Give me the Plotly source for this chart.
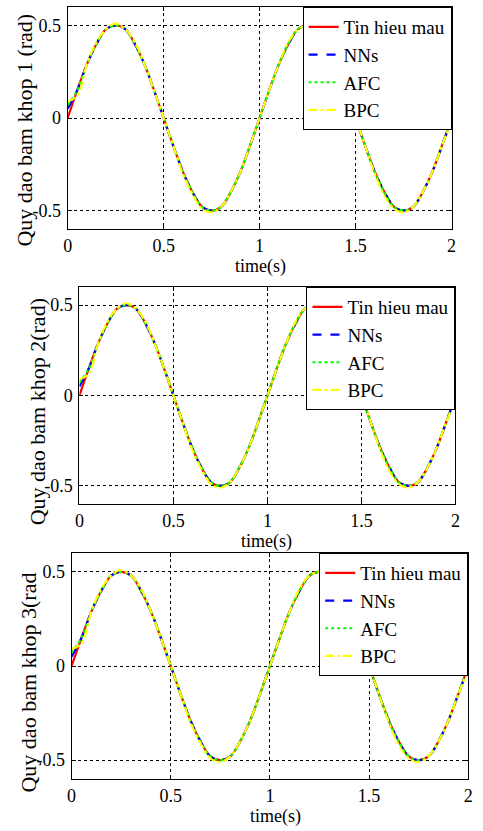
import plotly.graph_objects as go

# ---------------- data ----------------
time_s = [0.00, 0.05, 0.10, 0.15, 0.20, 0.25, 0.30, 0.35, 0.40, 0.45,
          0.50, 0.55, 0.60, 0.65, 0.70, 0.75, 0.80, 0.85, 0.90, 0.95,
          1.00, 1.05, 1.10, 1.15, 1.20, 1.25, 1.30, 1.35, 1.40, 1.45,
          1.50, 1.55, 1.60, 1.65, 1.70, 1.75, 1.80, 1.85, 1.90, 1.95, 2.00]

ref_signal = [0.00, 0.15, 0.29, 0.40, 0.48, 0.50, 0.48, 0.40, 0.29, 0.15,
              0.00, -0.15, -0.29, -0.40, -0.48, -0.50, -0.48, -0.40, -0.29, -0.15,
              0.00, 0.15, 0.29, 0.40, 0.48, 0.50, 0.48, 0.40, 0.29, 0.15,
              0.00, -0.15, -0.29, -0.40, -0.48, -0.50, -0.48, -0.40, -0.29, -0.15, 0.00]

nns_signal = [0.05, 0.15, 0.29, 0.40, 0.48, 0.50, 0.48, 0.40, 0.29, 0.15,
              0.00, -0.15, -0.29, -0.40, -0.48, -0.50, -0.48, -0.40, -0.29, -0.15,
              0.00, 0.15, 0.29, 0.40, 0.48, 0.50, 0.48, 0.40, 0.29, 0.15,
              0.00, -0.15, -0.29, -0.40, -0.48, -0.50, -0.48, -0.40, -0.29, -0.15, -0.01]

afc_signal = [0.07, 0.15, 0.29, 0.40, 0.48, 0.50, 0.48, 0.40, 0.29, 0.15,
              0.00, -0.15, -0.29, -0.40, -0.48, -0.50, -0.48, -0.40, -0.29, -0.15,
              0.00, 0.15, 0.29, 0.40, 0.48, 0.50, 0.48, 0.40, 0.29, 0.15,
              0.00, -0.15, -0.29, -0.40, -0.48, -0.50, -0.48, -0.40, -0.29, -0.15, -0.01]

bpc_signal = [0.09, 0.12, 0.29, 0.41, 0.48, 0.51, 0.48, 0.41, 0.29, 0.15,
              0.00, -0.15, -0.30, -0.41, -0.49, -0.51, -0.48, -0.40, -0.29, -0.15,
              0.00, 0.15, 0.29, 0.41, 0.48, 0.50, 0.48, 0.40, 0.29, 0.15,
              0.00, -0.15, -0.30, -0.42, -0.49, -0.51, -0.48, -0.40, -0.29, -0.15, -0.02]

series_names = ["Tin hieu mau", "NNs", "AFC", "BPC"]
series_values = [ref_signal, nns_signal, afc_signal, bpc_signal]

y_labels = ["Quy dao bam khop 1 (rad)", "Quy dao bam khop 2(rad)", "Quy dao bam khop 3(rad"]
x_label = "time(s)"
x_tickvals = [0, 0.5, 1, 1.5, 2]
x_ticktext = ["0", "0.5", "1", "1.5", "2"]
y_tickvals = [-0.5, 0, 0.5]
y_ticktext = ["-0.5", "0", "0.5"]

# ---------------- styles / layout ----------------
W, H = 483, 831
FONT = "Liberation Serif, Times New Roman, serif"
colors = ["#ff0000", "#0000ff", "#00ff00", "#ffff00"]
dashes = ["solid", "dash", "dot", "dashdot"]

# pixel boxes of the three axes: (left, right, top, bottom)
boxes = [(64, 456, 7, 229), (76, 460, 287, 504), (68, 473, 553, 779)]
ylabel_pos = [(20, 130), (33, 412), (23, 683)]
xlabel_pos = [(261, 266), (267, 541), (276, 816)]

def px(x):
    return x / W

def py(y):
    return 1 - y / H

fig = go.Figure()
layout = dict(
    width=W, height=H,
    margin=dict(l=0, r=0, t=0, b=0),
    paper_bgcolor="white", plot_bgcolor="white",
    font=dict(family=FONT, size=18, color="black"),
    annotations=[],
)

for k, (l, r, t, b) in enumerate(boxes):
    sfx = "" if k == 0 else str(k + 1)
    leg = "legend" if k == 0 else f"legend{k + 1}"
    for name, vals, c, d in zip(series_names, series_values, colors, dashes):
        fig.add_trace(go.Scatter(
            x=time_s, y=vals, mode="lines", name=name,
            line=dict(color=c, dash=d, width=2.2, shape="spline"),
            xaxis="x" + sfx, yaxis="y" + sfx, legend=leg,
        ))
    axis_common = dict(
        showline=True, linecolor="black", linewidth=1, mirror="ticks",
        ticks="inside", ticklen=4, tickcolor="black",
        showgrid=True, gridcolor="black", gridwidth=1, griddash="dot",
        zeroline=False, tickfont=dict(family=FONT, size=18, color="black"),
    )
    layout["xaxis" + sfx] = dict(
        domain=[px(l), px(r)], anchor="y" + sfx, range=[0, 2],
        tickvals=x_tickvals, ticktext=x_ticktext, ticklabelstandoff=0,
        **axis_common)
    layout["yaxis" + sfx] = dict(
        domain=[py(b), py(t)], anchor="x" + sfx, range=[-0.6, 0.6],
        tickvals=y_tickvals, ticktext=y_ticktext, ticklabelstandoff=2,
        **axis_common)
    layout[leg] = dict(
        x=px(r), y=py(t), xanchor="right", yanchor="top",
        bgcolor="white", bordercolor="black", borderwidth=1,
        font=dict(family=FONT, size=19, color="black"),
    )
    yx, yy = ylabel_pos[k]
    layout["annotations"].append(dict(
        text=y_labels[k], x=px(yx), y=py(yy), xref="paper", yref="paper",
        xanchor="center", yanchor="middle", textangle=-90, showarrow=False,
        font=dict(family=FONT, size=22, color="black")))
    xx, xy = xlabel_pos[k]
    layout["annotations"].append(dict(
        text=x_label, x=px(xx), y=py(xy), xref="paper", yref="paper",
        xanchor="center", yanchor="middle", showarrow=False,
        font=dict(family=FONT, size=18, color="black")))

fig.update_layout(**layout)
fig.write_html("out.html",
               config={"displayModeBar": False},
               post_script="document.body.style.margin='0';document.body.style.padding='0';")
